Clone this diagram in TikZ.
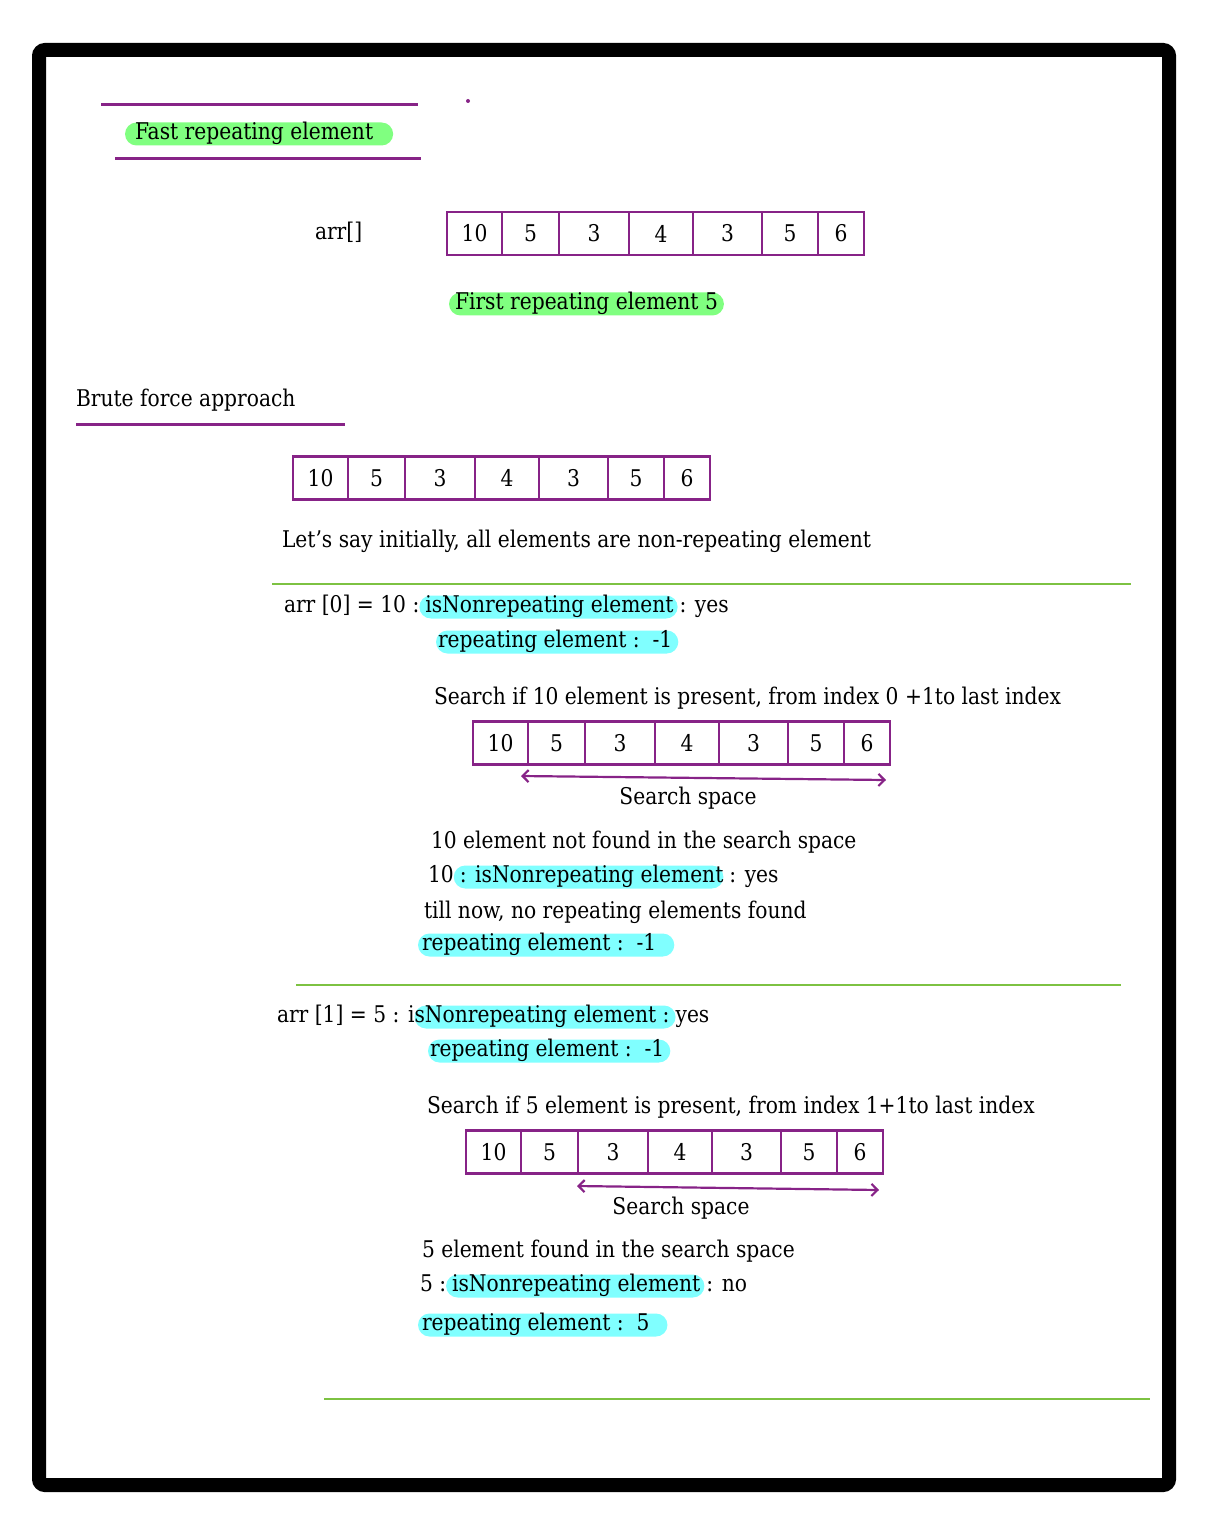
\documentclass[tikz,border=0pt]{standalone}
\usepackage{fontspec}
\setmainfont{DejaVu Serif}[FakeStretch=0.88]
\usepackage{tikz}
\usetikzlibrary{positioning,arrows.meta}

\definecolor{arrpurple}{RGB}{135,35,135}
\definecolor{sepgreen}{RGB}{125,194,66}
\definecolor{hlgreen}{RGB}{128,255,128}
\definecolor{hlcyan}{RGB}{128,255,255}

\newcommand{\drawarr}[3]{%
  \foreach \a/\b/\v [count=\i] in {0/55/10,55/112/5,112/182/3,182/246/4,246/315/3,315/371/5,371/417/6}
    \node[cell, minimum width={(\b-\a)*0.5pt}] (#1-\i) at ({#2+(\a+\b)/2},#3) {\v};
}

\begin{document}
\begin{tikzpicture}[x=0.5pt, y=-0.5pt, font=\fontsize{11.5}{13}\selectfont]
    \tikzstyle{txt} = [anchor=west, inner sep=0pt, outer sep=0pt, text height=1.6ex, text depth=0.45ex]
    \tikzstyle{pill} = [txt, minimum height=11.5pt, rounded corners=5.75pt]
    \tikzstyle{gpill} = [pill, fill=hlgreen]
    \tikzstyle{cpill} = [pill, fill=hlcyan]
    \tikzstyle{cell} = [rectangle, draw=arrpurple, line width=1.25pt, minimum height=21.5pt, inner sep=0pt, outer sep=0pt]
    \tikzstyle{uline} = [draw=arrpurple, line width=1.5pt]
    \tikzstyle{sep} = [draw=sepgreen, line width=1.2pt]
    \tikzstyle{sspace} = [draw=arrpurple, line width=1.1pt, {Straight Barb[length=3pt,width=6pt]}-{Straight Barb[length=3pt,width=6pt]}]

    \useasboundingbox (0,0) rectangle (1205,1518);
    \draw[line width=7pt, rounded corners=3pt] (39,50) rectangle (1169,1485);

    \draw[uline] (101,105) -- (418,105);
    \draw[uline] (115,159) -- (421,159);
    \fill[arrpurple] (468,101) circle (1pt);
    \node[gpill] (title) at (125,134) {\kern5pt Fast repeating element\kern10pt};

    \node[txt] (arrlbl) at (315,234) {arr[]};
    \drawarr{arrA}{447}{233.5}
    \node[gpill] (first) at (449,304) {\kern3pt First repeating element 5\kern3pt};

    \node[txt] (brute) at (76,401) {Brute force approach};
    \draw[uline] (76,425) -- (345,425);
    \drawarr{arrB}{293}{478}
    \node[txt] (init) at (282,542) {Let’s say initially, all elements are non-repeating element};
    \draw[sep] (272,584) -- (1131,584);

    \node[txt] (a0) at (284,607) {arr [0] = 10 :};
    \node[cpill, right=0pt of a0] (a0hl) {\kern3pt isNonrepeating element\kern2pt};
    \node[txt, right=1pt of a0hl] (a0yes) {: yes};
    \node[cpill] (a0rep) at (436,642) {\kern1pt repeating element :\ \ -1\kern3pt};
    \node[txt] (a0srch) at (434,699) {Search if 10 element is present, from index 0 +1to last index};
    \drawarr{arrC}{473}{743}
    \coordinate (ssC1) at (521,776);
    \coordinate (ssC2) at (886,780);
    \draw[sspace] (ssC1) -- (ssC2);
    \node[txt, anchor=center] (ssC) at (688,799) {Search space};
    \node[txt] (a0res) at (431,843) {10 element not found in the search space};
    \node[txt] (a0ten) at (428,877) {10};
    \node[cpill, right=0pt of a0ten] (a0hl2) {\kern3pt: isNonrepeating element\kern0pt};
    \node[txt, right=3pt of a0hl2] (a0yes2) {: yes};
    \node[txt] (a0till) at (424,913) {till now, no repeating elements found};
    \node[cpill] (a0rep2) at (418,945) {\kern2pt repeating element :\ \ -1\kern9pt};
    \draw[sep] (296,985) -- (1121,985);

    \node[txt] (a1) at (277,1017) {arr [1] = 5 : i};
    \node[cpill, right=0pt of a1] (a1hl) {sNonrepeating element :\kern3pt};
    \node[txt, right=0pt of a1hl] (a1yes) {yes};
    \node[cpill] (a1rep) at (428,1051) {\kern1pt repeating element :\ \ -1\kern3pt};
    \node[txt] (a1srch) at (427,1108) {Search if 5 element is present, from index 1+1to last index};
    \drawarr{arrD}{466}{1152}
    \coordinate (ssD1) at (577,1186);
    \coordinate (ssD2) at (879,1190);
    \draw[sspace] (ssD1) -- (ssD2);
    \node[txt, anchor=center] (ssD) at (681,1209) {Search space};
    \node[txt] (a1res) at (422,1252) {5 element found in the search space};
    \node[txt] (a1five) at (420,1286) {5 :};
    \node[cpill, right=0pt of a1five] (a1hl2) {\kern3pt isNonrepeating element\kern2pt};
    \node[txt, right=1pt of a1hl2] (a1no) {: no};
    \node[cpill] (a1rep2) at (418,1325) {\kern2pt repeating element :\ \ 5\kern9pt};
    \draw[sep] (324,1399) -- (1150,1399);
\end{tikzpicture}
\end{document}
